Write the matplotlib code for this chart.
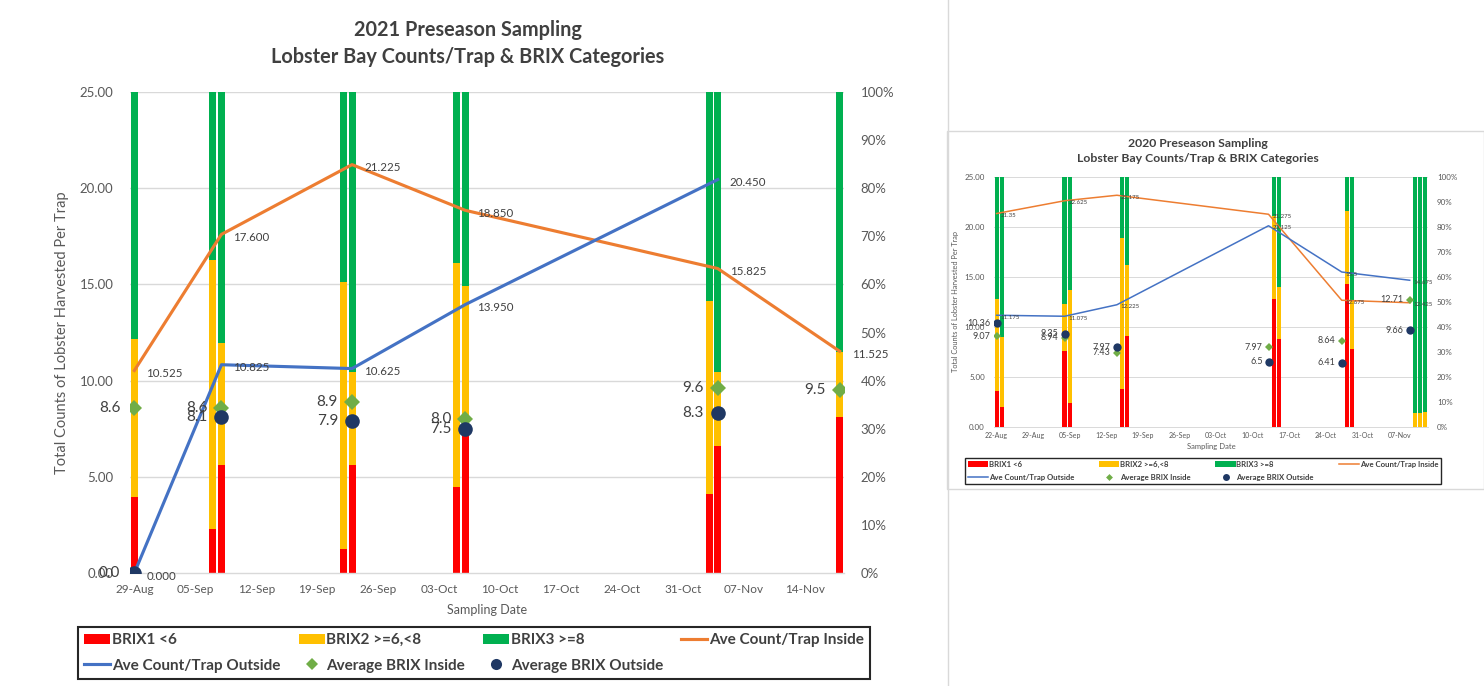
import matplotlib
matplotlib.use('Agg')
import matplotlib.pyplot as plt
import matplotlib.dates as mdates
from matplotlib.lines import Line2D
from matplotlib.patches import Patch, Rectangle
from matplotlib.ticker import FuncFormatter
from datetime import datetime, timedelta
import numpy as np

plt.rcParams['font.family'] = ['Lato', 'DejaVu Sans']

# Colores de las series
ROJO = '#FF0000'
AMARILLO = '#FFC000'
VERDE = '#00B050'
NARANJA = '#ED7D31'
AZUL = '#4472C4'
VERDE_CLARO = '#70AD47'
MARINO = '#1F3864'
GRIS_TXT = '#595959'
GRIS_GRID = '#D9D9D9'

# ---- Temporada 2021 ----
fechas_barras_21 = ['2021-08-29', '2021-09-07', '2021-09-08', '2021-09-22', '2021-09-23',
                    '2021-10-05', '2021-10-06', '2021-11-03', '2021-11-04', '2021-11-18']
brix1_21 = [15.7, 9.1, 22.5, 5.0, 22.5, 17.8, 29.0, 16.4, 26.4, 32.5]
brix2_21 = [32.9, 56.0, 25.3, 55.6, 19.2, 46.7, 30.7, 40.1, 15.3, 13.5]
brix3_21 = [51.4, 34.9, 52.2, 39.4, 58.3, 35.5, 40.3, 43.5, 58.3, 54.0]

fechas_lineas_21 = ['2021-08-29', '2021-09-08', '2021-09-23', '2021-10-06', '2021-11-04', '2021-11-18']
dentro_21 = [10.525, 17.600, 21.225, 18.850, 15.825, 11.525]
fuera_21 = [0.000, 10.825, 10.625, 13.950, 20.450]
brix_dentro_21 = [8.6, 8.6, 8.9, 8.0, 9.6, 9.5]
brix_fuera_21 = [0.0, 8.1, 7.9, 7.5, 8.3]

# ---- Temporada 2020 ----
fechas_barras_20 = ['2020-08-22', '2020-08-23', '2020-09-04', '2020-09-05', '2020-09-15',
                    '2020-09-16', '2020-10-14', '2020-10-15', '2020-10-28', '2020-10-29',
                    '2020-11-10', '2020-11-11', '2020-11-12']
brix1_20 = [14.5, 8.1, 30.5, 9.7, 15.1, 36.5, 51.2, 35.3, 57.2, 31.1, 0.0, 0.0, 0.0]
brix2_20 = [36.7, 27.8, 18.7, 45.1, 60.4, 28.3, 33.2, 20.8, 29.2, 19.7, 5.5, 5.5, 6.1]
brix3_20 = [48.8, 64.1, 50.8, 45.2, 24.5, 35.2, 15.6, 43.9, 13.6, 49.2, 94.5, 94.5, 93.9]

fechas_lineas_20 = ['2020-08-22', '2020-09-04', '2020-09-14', '2020-10-13', '2020-10-27', '2020-11-09']
dentro_20 = [21.35, 22.625, 23.175, 21.275, 12.675, 12.425]
fuera_20 = [11.175, 11.075, 12.225, 20.125, 15.5, 14.675]
brix_dentro_20 = [9.07, 8.94, 7.43, 7.97, 8.64, 12.71]
brix_fuera_20 = [10.36, 9.35, 7.97, 6.5, 6.41, 9.66]

etiquetas = ['BRIX1 <6', 'BRIX2 >=6,<8', 'BRIX3 >=8', 'Ave Count/Trap Inside',
             'Ave Count/Trap Outside', 'Average BRIX Inside', 'Average BRIX Outside']

W, H = 1484, 686
fig = plt.figure(figsize=(W / 100, H / 100), dpi=100)
fig.patch.set_facecolor('white')


def a_num(fechas):
    return mdates.date2num([datetime.strptime(f, '%Y-%m-%d') for f in fechas])


def px_rect(x0, y0, x1, y1):
    # rectangulo en pixeles (origen arriba a la izquierda) -> coords de figura
    return [x0 / W, 1 - y1 / H, (x1 - x0) / W, (y1 - y0) / H]


def grafica(rect, titulo, pos_titulo, b_fechas, b1, b2, b3, l_fechas, dentro, fuera,
            bdentro, bfuera, fmt_linea, fmt_brix, s):
    ax = fig.add_axes(rect)
    xb = a_num(b_fechas)
    b1 = np.array(b1)
    b2 = np.array(b2)
    b3 = np.array(b3)
    for g in range(20, 101, 20):
        ax.axhline(g, color=GRIS_GRID, lw=s['grid'], zorder=0)
    ax.bar(xb, b1, width=0.8, color=ROJO, zorder=2)
    ax.bar(xb, b2, bottom=b1, width=0.8, color=AMARILLO, zorder=2)
    ax.bar(xb, b3, bottom=b1 + b2, width=0.8, color=VERDE, zorder=2)
    ax.set_ylim(0, 100)
    ax.set_xlim(xb[0] - 0.5, xb[-1] + 0.5)

    inicio = datetime.strptime(b_fechas[0], '%Y-%m-%d')
    ticks = [inicio + timedelta(days=7 * i) for i in range(12)]
    ax.set_xticks(mdates.date2num(ticks))
    ax.xaxis.set_major_formatter(mdates.DateFormatter('%d-%b'))
    ax.tick_params(axis='x', length=0, pad=s['pad_x'], labelsize=s['xtick'], labelcolor=GRIS_TXT)
    for sp in ['top', 'left', 'right']:
        ax.spines[sp].set_visible(False)
    ax.spines['bottom'].set_color(GRIS_GRID)
    ax.spines['bottom'].set_linewidth(s['grid'])
    ax.set_xlabel('Sampling Date', fontsize=s['xlabel'], color=GRIS_TXT)
    ax.xaxis.set_label_coords(0.5, s['xlab_y'])

    # eje de conteos por trampa (izquierda); las barras quedan en el eje de porcentaje (derecha)
    ax2 = ax.twinx()
    ax.yaxis.tick_right()
    ax.set_yticks(range(0, 101, 10))
    ax.yaxis.set_major_formatter(FuncFormatter(lambda v, p: '%d%%' % v))
    ax.tick_params(axis='y', length=0, pad=s['pad_y'], labelsize=s['tick'], labelcolor=GRIS_TXT)

    ax2.yaxis.tick_left()
    ax2.yaxis.set_label_position('left')
    ax2.set_ylim(0, 25)
    ax2.set_yticks(range(0, 26, 5))
    ax2.yaxis.set_major_formatter(FuncFormatter(lambda v, p: '%.2f' % v))
    ax2.tick_params(axis='y', length=0, pad=s['pad_y'], labelsize=s['tick'], labelcolor=GRIS_TXT)
    for sp in ax2.spines.values():
        sp.set_visible(False)
    ax2.set_ylabel('Total Counts of Lobster Harvested Per Trap', fontsize=s['ylabel'], color=GRIS_TXT)
    ax2.yaxis.set_label_coords(s['ylab_x'], 0.5)

    xl = a_num(l_fechas)
    ax2.plot(xl, dentro, color=NARANJA, lw=s['lw'], zorder=3)
    ax2.plot(xl[:len(fuera)], fuera, color=AZUL, lw=s['lw'], zorder=3)
    ax2.plot(xl[:len(bdentro)], bdentro, 'D', color=VERDE_CLARO, ms=s['ms_d'], mew=0, zorder=4)
    ax2.plot(xl[:len(bfuera)], bfuera, 'o', color=MARINO, ms=s['ms_c'], mew=0, zorder=5)

    for xs, ys in [(xl, dentro), (xl, fuera)]:
        for x, y in zip(xs, ys):
            ax2.annotate(fmt_linea(y), (x, y), xytext=s['off_linea'], textcoords='offset pixels',
                         ha='left', va='center', fontsize=s['dato'], color='#404040', zorder=6)
    for ys in [bdentro, bfuera]:
        for x, y in zip(xl, ys):
            ax2.annotate(fmt_brix(y), (x, y), xytext=(s['off_brix'], 0), textcoords='offset pixels',
                         ha='right', va='center', fontsize=s['brix'], color='#404040', zorder=6)

    fig.text(pos_titulo[0] / W, 1 - pos_titulo[1] / H, titulo, ha='center', va='center',
             fontsize=s['titulo'], fontweight='bold', color='#404040', linespacing=s['interlinea'])

    # leyenda: se ordena para que se lea por filas
    h = [Patch(facecolor=ROJO), Patch(facecolor=AMARILLO), Patch(facecolor=VERDE),
         Line2D([], [], color=NARANJA, lw=s['lw_leg']),
         Line2D([], [], color=AZUL, lw=s['lw_leg']),
         Line2D([], [], marker='D', ls='none', color=VERDE_CLARO, ms=s['ms_leg_d'], mew=0),
         Line2D([], [], marker='o', ls='none', color=MARINO, ms=s['ms_leg_c'], mew=0)]
    orden = [0, 4, 1, 5, 2, 6, 3]
    leg = fig.legend([h[i] for i in orden], [etiquetas[i] for i in orden], ncol=4,
                     loc='center', bbox_to_anchor=(s['leg_pos'][0] / W, 1 - s['leg_pos'][1] / H),
                     fancybox=False, framealpha=1, edgecolor='#262626',
                     prop={'size': s['leg'], 'weight': 'bold'},
                     handlelength=s['hlen'], handleheight=0.7, handletextpad=0.1,
                     columnspacing=s['colsp'], labelspacing=s['lsp'], borderpad=0.4)
    leg.get_frame().set_linewidth(s['leg_lw'])
    for t in leg.get_texts():
        t.set_color('#404040')
    return ax, ax2


est_21 = dict(grid=1.0, pad_y=12, pad_x=8, tick=9.5, xtick=8.5, xlabel=9, ylabel=10.5,
              xlab_y=-0.064, ylab_x=-0.085, lw=2.25, ms_d=8, ms_c=10.5, dato=8.3, brix=11,
              off_linea=(12, -3), off_brix=-14, titulo=14.3, interlinea=1.4,
              lw_leg=2.25, ms_leg_d=6, ms_leg_c=8, leg=11, hlen=1.7, colsp=1.2, lsp=0.75,
              leg_pos=(474, 653), leg_lw=1.5)

est_20 = dict(grid=0.7, pad_y=6.5, pad_x=3.5, tick=5.8, xtick=5, xlabel=5.5, ylabel=5.3,
              xlab_y=-0.064, ylab_x=-0.081, lw=1.1, ms_d=4.5, ms_c=6, dato=4.4, brix=6.5,
              off_linea=(4, -2), off_brix=-6, titulo=8.8, interlinea=1.45,
              lw_leg=1.1, ms_leg_d=3.5, ms_leg_c=5, leg=5.6, hlen=2.6, colsp=3.2, lsp=0.8,
              leg_pos=(1203, 471), leg_lw=1.0)

grafica(px_rect(130, 92, 844, 573),
        '2021 Preseason Sampling\nLobster Bay Counts/Trap & BRIX Categories', (468, 43.5),
        fechas_barras_21, brix1_21, brix2_21, brix3_21, fechas_lineas_21,
        dentro_21, fuera_21, brix_dentro_21, brix_fuera_21,
        lambda v: '%.3f' % v, lambda v: '%.1f' % v, est_21)

grafica(px_rect(994, 177, 1428, 427),
        '2020 Preseason Sampling\nLobster Bay Counts/Trap & BRIX Categories', (1198, 151),
        fechas_barras_20, brix1_20, brix2_20, brix3_20, fechas_lineas_20,
        dentro_20, fuera_20, brix_dentro_20, brix_fuera_20,
        lambda v: '%g' % v, lambda v: '%g' % v, est_20)

# separador del panel izquierdo y marco del panel derecho
fig.add_artist(Line2D([948 / W, 948 / W], [0, 1], color=GRIS_GRID, lw=1.0, transform=fig.transFigure))
fig.add_artist(Rectangle((947 / W, 1 - 489 / H), (W - 947) / W, (489 - 131) / H, fill=False,
                         edgecolor=GRIS_GRID, lw=1.0, transform=fig.transFigure))

fig.savefig('out.png', dpi=100)
